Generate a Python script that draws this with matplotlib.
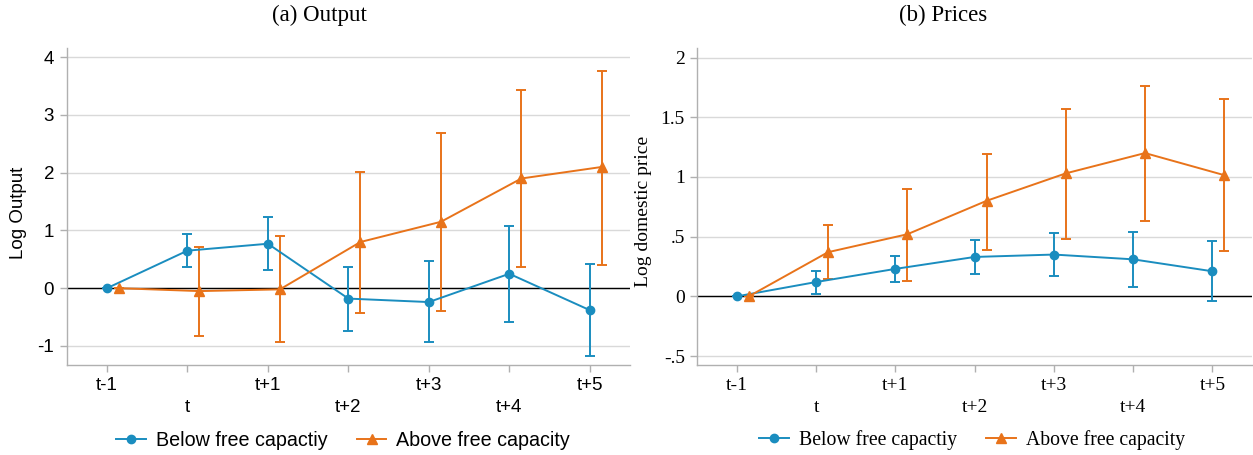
import matplotlib
matplotlib.use("Agg")
import matplotlib.pyplot as plt
from matplotlib.font_manager import FontProperties
from matplotlib.lines import Line2D
import numpy as np

periods = ["t-1", "t", "t+1", "t+2", "t+3", "t+4", "t+5"]

# Panel (a) Output
out_below = [0.0, 0.65, 0.77, -0.18, -0.24, 0.25, -0.38]
out_below_lo = [0.0, 0.36, 0.32, -0.74, -0.94, -0.58, -1.17]
out_below_hi = [0.0, 0.94, 1.23, 0.37, 0.47, 1.07, 0.42]
out_above = [0.0, -0.05, -0.02, 0.80, 1.15, 1.90, 2.10]
out_above_lo = [0.0, -0.83, -0.93, -0.43, -0.39, 0.37, 0.41]
out_above_hi = [0.0, 0.72, 0.90, 2.01, 2.68, 3.43, 3.77]

# Panel (b) Prices
pr_below = [0.0, 0.12, 0.23, 0.33, 0.35, 0.31, 0.21]
pr_below_lo = [0.0, 0.02, 0.12, 0.19, 0.17, 0.075, -0.04]
pr_below_hi = [0.0, 0.21, 0.34, 0.47, 0.53, 0.54, 0.465]
pr_above = [0.0, 0.37, 0.52, 0.80, 1.03, 1.20, 1.015]
pr_above_lo = [0.0, 0.145, 0.13, 0.39, 0.48, 0.63, 0.38]
pr_above_hi = [0.0, 0.60, 0.90, 1.19, 1.57, 1.76, 1.65]

labels = ["Below free capactiy", "Above free capacity"]
blue = "#1a8dbf"
orange = "#e8731a"
grid_c = "#d9d9d9"
spine_c = "#b0b0b0"

W, H = 1253, 455
fig = plt.figure(figsize=(W / 100, H / 100), dpi=100)

def frac(x0, y0, x1, y1):
    return [x0 / W, 1 - y1 / H, (x1 - x0) / W, (y1 - y0) / H]

ax1 = fig.add_axes(frac(66.7, 48, 630, 365))
ax2 = fig.add_axes(frac(697.3, 48, 1252, 365))

def draw(ax, b, blo, bhi, a, alo, ahi, font, ylim, yticks, yticklabels, ylabel, title,
         tick_fs, lab_fs, leg_fs, leg_x, title_x, ylab_xy):
    fp_tick = FontProperties(family=font, size=tick_fs)
    fp_leg = FontProperties(family=font, size=leg_fs)
    x = np.arange(len(periods)) - 1
    off = 0.15
    b = np.array(b); a = np.array(a)
    ax.errorbar(x, b, yerr=[b - np.array(blo), np.array(bhi) - b], color=blue,
                marker="o", ms=6, lw=1.4, elinewidth=1.4, capsize=3.5, capthick=1.4,
                zorder=3)
    ax.errorbar(x + off, a, yerr=[a - np.array(alo), np.array(ahi) - a], color=orange,
                marker="^", ms=6.5, lw=1.4, elinewidth=1.4, capsize=3.5, capthick=1.4,
                zorder=3)
    ax.axhline(0, color="black", lw=1.0, zorder=2)
    ax.set_xlim(-1.5, 5.5)
    ax.set_ylim(*ylim)
    ax.set_yticks(yticks)
    ax.set_yticklabels(yticklabels, fontproperties=fp_tick)
    ax.set_xticks(x)
    ax.set_xticklabels([p if i % 2 == 0 else "\n" + p for i, p in enumerate(periods)],
                       fontproperties=fp_tick, linespacing=1.35)
    ax.grid(axis="y", color=grid_c, lw=1.0, zorder=0)
    ax.set_axisbelow(True)
    for s in ["top", "right"]:
        ax.spines[s].set_visible(False)
    for s in ["left", "bottom"]:
        ax.spines[s].set_color(spine_c)
        ax.spines[s].set_linewidth(1.0)
    ax.tick_params(axis="both", color=spine_c, length=5, width=1.0, pad=4)
    fig.text(ylab_xy[0] / W, 1 - ylab_xy[1] / H, ylabel, rotation=90,
             ha="center", va="center", family=font, size=lab_fs)
    fig.text(title_x / W, 1 - 15 / H, title, ha="center", va="center",
             family="Liberation Serif", size=16.5)
    handles = [Line2D([], [], color=blue, marker="o", ms=6, lw=1.4),
               Line2D([], [], color=orange, marker="^", ms=6.5, lw=1.4)]
    fig.legend(handles=handles, labels=labels,
               loc="center", bbox_to_anchor=(leg_x / W, 1 - 440 / H),
               bbox_transform=fig.transFigure, ncol=2, frameon=False,
               prop=fp_leg, handlelength=1.5, columnspacing=1.5, handletextpad=0.5)
    return ax

draw(ax1, out_below, out_below_lo, out_below_hi, out_above, out_above_lo, out_above_hi,
     "Liberation Sans", (-1.33, 4.16), [-1, 0, 1, 2, 3, 4], ["-1", "0", "1", "2", "3", "4"],
     "Log Output", "(a) Output", 13.5, 13.5, 14.2, 343, 319, (19, 213))
draw(ax2, pr_below, pr_below_lo, pr_below_hi, pr_above, pr_above_lo, pr_above_hi,
     "Liberation Serif", (-0.575, 2.08), [-0.5, 0, 0.5, 1, 1.5, 2],
     ["-.5", "0", ".5", "1", "1.5", "2"],
     "Log domestic price", "(b) Prices", 14, 14, 14.2, 972, 943, (643, 211))

fig.savefig("out.png", dpi=100)
